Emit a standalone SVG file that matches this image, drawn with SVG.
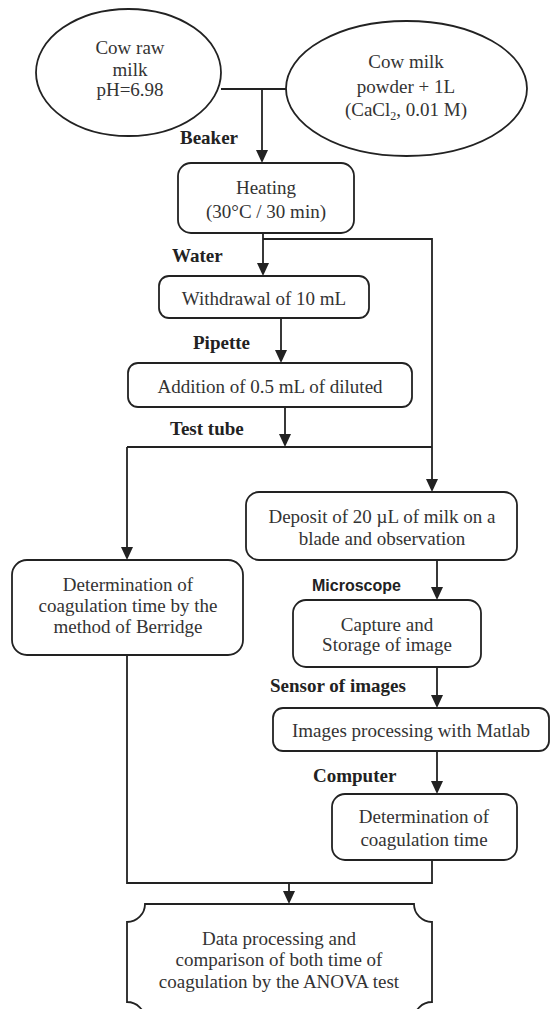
<svg xmlns="http://www.w3.org/2000/svg" width="552" height="1009" viewBox="0 0 552 1009">
  <style>
    .bg { fill: #ffffff; }
    .node { fill: #ffffff; stroke: #222222; stroke-width: 1.8; }
    .t { font-family: "Liberation Serif", "Times New Roman", serif; font-size: 19px; fill: #333333; text-anchor: middle; }
    .lbl { font-family: "Liberation Serif", "Times New Roman", serif; font-size: 19px; font-weight: bold; fill: #222222; }
    .lbl-sans { font-family: "Liberation Sans", Arial, sans-serif; font-size: 16px; font-weight: bold; fill: #222222; }
    .wire { fill: none; stroke: #222222; stroke-width: 1.8; }
    .head { fill: #222222; }
  </style>
  <defs>
    <!-- downward arrowhead, tip at (0,0) -->
    <path id="down" class="head" d="M-6,-13 L6,-13 L0,0 Z"/>
  </defs>

  <rect class="bg" x="0" y="0" width="552" height="1009"/>

  <!-- connectors -->
  <g id="connectors">
    <path class="wire" d="M221,89 H286"/>
    <path class="wire" d="M262,89 V151"/>
    <path class="wire" d="M263,233 V264"/>
    <path class="wire" d="M263,239 H432 V480"/>
    <path class="wire" d="M281,318 V351"/>
    <path class="wire" d="M285,407 V436"/>
    <path class="wire" d="M127,447 H432"/>
    <path class="wire" d="M127,447 V548"/>
    <path class="wire" d="M437,560 V588"/>
    <path class="wire" d="M437,667 V696"/>
    <path class="wire" d="M437,751 V782"/>
    <path class="wire" d="M432,860 V883 H127 V655"/>
    <path class="wire" d="M289,883 V892"/>
    <!-- arrowheads -->
    <use href="#down" x="262" y="163"/>
    <use href="#down" x="263" y="276"/>
    <use href="#down" x="432" y="492"/>
    <use href="#down" x="281" y="363"/>
    <use href="#down" x="285" y="447"/>
    <use href="#down" x="127" y="560"/>
    <use href="#down" x="437" y="600"/>
    <use href="#down" x="437" y="708"/>
    <use href="#down" x="437" y="794"/>
    <use href="#down" x="289" y="904"/>
  </g>

  <!-- connector labels -->
  <g id="labels">
    <text class="lbl" x="180" y="144">Beaker</text>
    <text class="lbl" x="172" y="262">Water</text>
    <text class="lbl" x="193" y="349">Pipette</text>
    <text class="lbl" x="170" y="435">Test tube</text>
    <text class="lbl-sans" x="312" y="591">Microscope</text>
    <text class="lbl" x="270" y="692">Sensor of images</text>
    <text class="lbl" x="313" y="782">Computer</text>
  </g>

  <g id="raw-milk">
    <ellipse class="node" cx="128.5" cy="72.5" rx="92.5" ry="63.5"/>
    <text class="t" x="130" y="54">Cow raw</text>
    <text class="t" x="130" y="76">milk</text>
    <text class="t" x="130" y="96">pH=6.98</text>
  </g>

  <g id="milk-powder">
    <ellipse class="node" cx="406.5" cy="88.5" rx="120.5" ry="67.5"/>
    <text class="t" x="406" y="68">Cow milk</text>
    <text class="t" x="406" y="93">powder + 1L</text>
    <text class="t" x="406" y="116">(CaCl<tspan font-size="12" dy="4">2</tspan><tspan dy="-4">, 0.01 M)</tspan></text>
  </g>

  <g id="heating">
    <rect class="node" x="178" y="163" width="176" height="70" rx="13"/>
    <text class="t" x="266" y="194">Heating</text>
    <text class="t" x="266" y="218">(30°C / 30 min)</text>
  </g>

  <g id="withdrawal">
    <rect class="node" x="159" y="276" width="210" height="42" rx="10"/>
    <text class="t" x="264" y="305">Withdrawal of 10 mL</text>
  </g>

  <g id="addition">
    <rect class="node" x="128" y="363" width="284" height="44" rx="10"/>
    <text class="t" x="270" y="393">Addition of 0.5 mL of diluted</text>
  </g>

  <g id="deposit">
    <rect class="node" x="246" y="492" width="271" height="68" rx="13"/>
    <text class="t" x="382" y="523">Deposit of 20 µL of milk on a</text>
    <text class="t" x="382" y="545">blade and observation</text>
  </g>

  <g id="berridge">
    <rect class="node" x="12" y="560" width="231" height="95" rx="15"/>
    <text class="t" x="128" y="591">Determination of</text>
    <text class="t" x="128" y="612">coagulation time by the</text>
    <text class="t" x="128" y="633">method of Berridge</text>
  </g>

  <g id="capture">
    <rect class="node" x="293" y="600" width="188" height="67" rx="13"/>
    <text class="t" x="387" y="631">Capture and</text>
    <text class="t" x="387" y="651">Storage of image</text>
  </g>

  <g id="matlab">
    <rect class="node" x="273" y="708" width="276" height="43" rx="10"/>
    <text class="t" x="411" y="737">Images processing with Matlab</text>
  </g>

  <g id="coag-time">
    <rect class="node" x="332" y="794" width="185" height="66" rx="13"/>
    <text class="t" x="424" y="823">Determination of</text>
    <text class="t" x="424" y="846">coagulation time</text>
  </g>

  <g id="anova">
    <path class="node" d="M145,904 H414 A18,18 0 0 0 432,922 V1002 A18,18 0 0 0 414,1020 H145 A18,18 0 0 0 127,1002 V922 A18,18 0 0 0 145,904 Z"/>
    <text class="t" x="279" y="945">Data processing and</text>
    <text class="t" x="279" y="966">comparison of both time of</text>
    <text class="t" x="279" y="988">coagulation by the ANOVA test</text>
  </g>
</svg>
